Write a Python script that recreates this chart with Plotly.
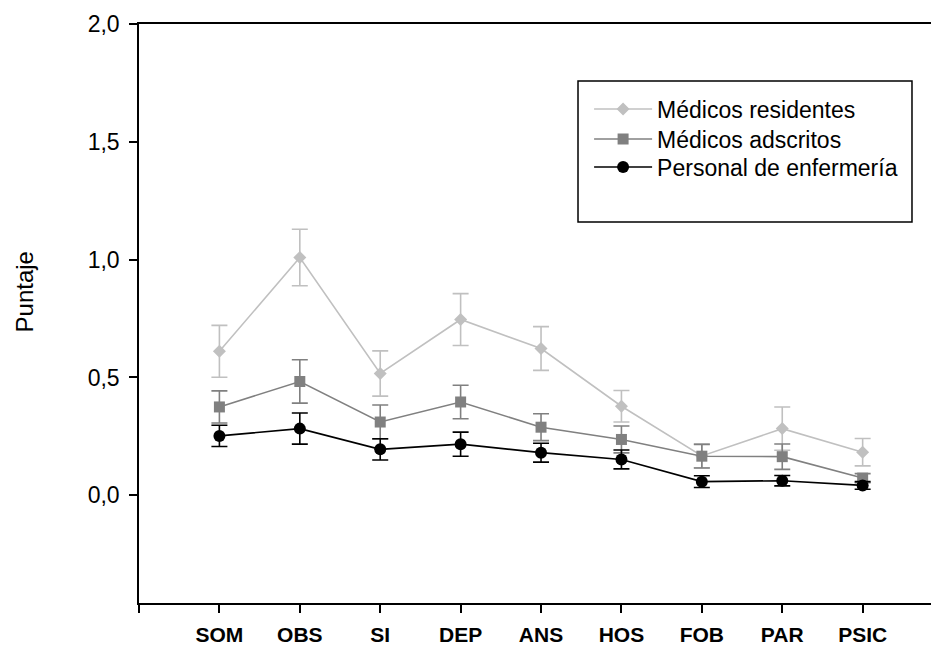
import plotly.graph_objects as go

categories = ["SOM", "OBS", "SI", "DEP", "ANS", "HOS", "FOB", "PAR", "PSIC"]
x_pos = [1, 2, 3, 4, 5, 6, 7, 8, 9]

residentes = [0.611, 1.009, 0.517, 0.746, 0.623, 0.378, 0.167, 0.283, 0.183]
residentes_err = [0.110, 0.120, 0.096, 0.110, 0.093, 0.067, 0.050, 0.092, 0.058]

adscritos = [0.375, 0.483, 0.311, 0.396, 0.289, 0.237, 0.166, 0.164, 0.073]
adscritos_err = [0.068, 0.092, 0.072, 0.071, 0.057, 0.057, 0.050, 0.054, 0.019]

enfermeria = [0.252, 0.283, 0.195, 0.217, 0.181, 0.152, 0.058, 0.062, 0.042]
enfermeria_err = [0.045, 0.066, 0.045, 0.051, 0.040, 0.040, 0.025, 0.022, 0.016]

y_ticks = [0.0, 0.5, 1.0, 1.5, 2.0]

FONT = "Liberation Sans, Arial, sans-serif"

series = [
    ("Médicos residentes", residentes, residentes_err, "#c0c0c0", "diamond", 10, "legend"),
    ("Médicos adscritos", adscritos, adscritos_err, "#808080", "square", 11, "legend2"),
    ("Personal de enfermería", enfermeria, enfermeria_err, "#000000", "circle", 12, "legend3"),
]

fig = go.Figure()
for name, vals, errs, color, sym, size, leg in series:
    fig.add_trace(go.Scatter(
        x=x_pos, y=vals, name=name, mode="lines+markers", legend=leg,
        line=dict(color=color, width=1.6),
        marker=dict(symbol=sym, size=size, color=color, line=dict(width=0)),
        error_y=dict(type="data", array=errs, visible=True, color=color,
                     thickness=1.6, width=8),
    ))

def leg(y):
    return dict(
        x=0.5683, y=y, xanchor="left", yanchor="middle",
        bgcolor="rgba(0,0,0,0)", borderwidth=0,
        font=dict(family=FONT, size=23, color="black"),
        itemwidth=58,
    )

fig.update_layout(
    width=931, height=646,
    margin=dict(l=139, r=0, t=24, b=43),
    plot_bgcolor="white", paper_bgcolor="white",
    font=dict(family=FONT, size=23, color="black"),
    separators=",.",
    showlegend=True,
    legend=leg(0.8532),
    legend2=leg(0.8014),
    legend3=leg(0.7530),
    shapes=[dict(type="rect", xref="paper", yref="paper",
                 x0=0.5543, x1=0.976, y0=0.658, y1=0.9016,
                 line=dict(color="black", width=1.5), fillcolor="rgba(0,0,0,0)")],
    annotations=[dict(text="Puntaje", xref="paper", yref="paper",
                      x=-0.1447, y=0.537, xanchor="center", yanchor="middle",
                      textangle=-90, showarrow=False,
                      font=dict(family=FONT, size=24, color="black"))],
)

fig.update_xaxes(
    range=[0, 9.85], tickmode="array",
    tickvals=[0] + x_pos, ticktext=[""] + categories,
    ticks="outside", ticklen=8, tickwidth=1.5, tickcolor="black",
    showline=True, linewidth=1.5, linecolor="black", mirror=True,
    showgrid=False, zeroline=False, automargin=False,
    tickfont=dict(family=FONT, size=21, color="black", weight="bold"),
    ticklabelstandoff=4,
)
fig.update_yaxes(
    range=[-0.457, 2.0], tickmode="array", tickvals=y_ticks,
    tickformat=".1f",
    ticks="outside", ticklen=8, tickwidth=1.5, tickcolor="black",
    showline=True, linewidth=1.5, linecolor="black",
    showgrid=False, zeroline=False, automargin=False,
    tickfont=dict(family=FONT, size=23, color="black"),
    ticklabelstandoff=5,
)

fig.write_html("out.html")
